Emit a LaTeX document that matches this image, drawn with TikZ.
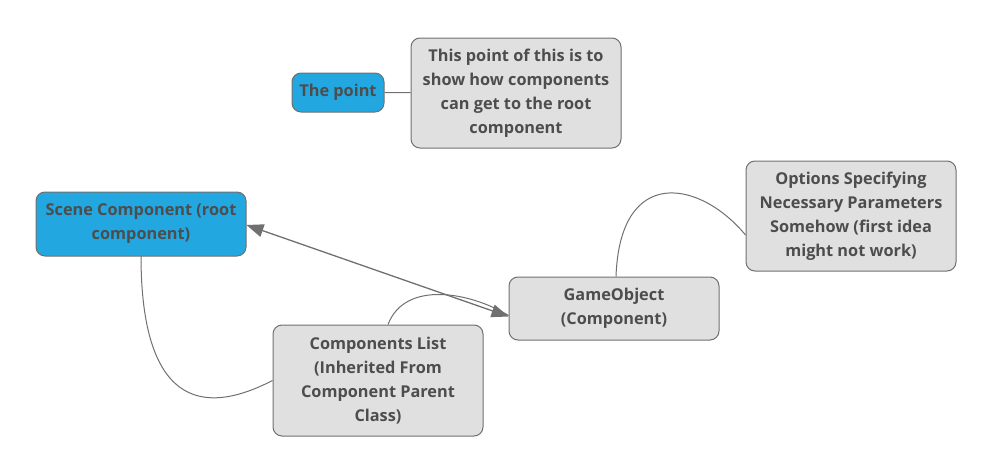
\documentclass[tikz,border=0pt]{standalone}
\usepackage{fontspec}
\setsansfont{Open Sans}
\usepackage{tikz}
\usetikzlibrary{arrows.meta}
\definecolor{boxgray}{HTML}{E0E0E0}
\definecolor{rootblue}{HTML}{22A7E0}
\definecolor{edgegray}{HTML}{707070}
\definecolor{textgray}{HTML}{4D4D4D}

\begin{document}
\begin{tikzpicture}
  [x=1pt,y=-1pt,
   every node/.style={rectangle,rounded corners=9pt,draw=edgegray,line width=1pt,
     fill=boxgray,text=textgray,align=center,inner sep=0pt,
     font=\sffamily\bfseries\fontsize{16.3}{24}\selectfont},
   idea/.style={minimum width=210pt},
   rootidea/.style={fill=rootblue},
   link/.style={draw=edgegray,line width=1pt}]
  \useasboundingbox (0,0) rectangle (994,474);

  \node[rootidea,minimum width=92pt,minimum height=39pt] (point) at (338,92.5) {The point};
  \node[idea,minimum height=110pt] (note) at (516,93)
    {This point of this is to\\show how components\\can get to the root\\component};
  \node[idea,rootidea,minimum height=64pt] (scene) at (141,224)
    {Scene Component (root\\component)};
  \node[idea,minimum height=63pt] (gameobj) at (614,308.5)
    {GameObject\\(Component)};
  \node[idea,minimum height=110pt] (options) at (851,216)
    {Options Specifying\\Necessary Parameters\\Somehow (first idea\\might not work)};
  \node[idea,minimum height=111pt] (complist) at (378,380.5)
    {Components List\\(Inherited From\\Component Parent\\Class)};

  \foreach \from/\to in {point/note}
    \draw[link] (\from) -- (\to);

  \draw[link] ([yshift=1pt]scene.south) .. controls (141,430) and (225,405) .. (complist.west);
  \draw[link] ([xshift=10pt]complist.north) .. controls (405,280) and (470,292) .. ([yshift=-7pt]gameobj.west);
  \draw[link] ([xshift=2pt]gameobj.north) .. controls (620,165) and (700,180) .. ([yshift=-19pt]options.west);

  \draw[link,line width=1.3pt,{Triangle[length=17pt,width=13pt]}-{Triangle[length=17pt,width=13pt]}]
    ([yshift=-1pt]scene.east) -- ([yshift=-8pt]gameobj.west);
\end{tikzpicture}
\end{document}
